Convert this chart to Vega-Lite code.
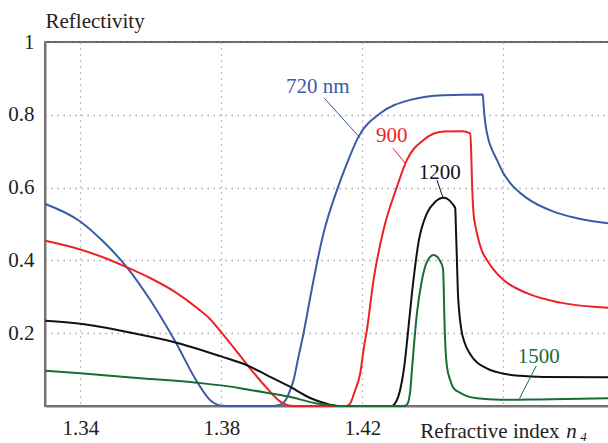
{
  "$schema": "https://vega.github.io/schema/vega-lite/v6.json",
  "width": 564,
  "height": 364,
  "autosize": {"type": "none"},
  "padding": {"left": 45, "top": 42, "right": 0, "bottom": 37},
  "background": "white",
  "config": {
    "font": "Liberation Serif",
    "view": {"stroke": "#333", "strokeWidth": 1.5},
    "axis": {
      "domainColor": "#777",
      "domainWidth": 2,
      "ticks": false,
      "labelFontSize": 21,
      "labelColor": "#222",
      "labelFont": "Liberation Serif",
      "grid": true,
      "gridColor": "#9a9a9a",
      "gridWidth": 1.3,
      "gridDash": [1.3, 4.7],
      "titleFont": "Liberation Serif",
      "titleFontSize": 21,
      "titleFontWeight": "normal",
      "titleColor": "#222"
    }
  },
  "datasets": {
    "curves": [
      {"series": "720", "x": 1.3301, "y": 0.555},
      {"series": "720", "x": 1.34, "y": 0.507},
      {"series": "720", "x": 1.3466, "y": 0.451},
      {"series": "720", "x": 1.35325, "y": 0.381},
      {"series": "720", "x": 1.35986, "y": 0.291},
      {"series": "720", "x": 1.36695, "y": 0.177},
      {"series": "720", "x": 1.37311, "y": 0.067},
      {"series": "720", "x": 1.37688, "y": 0.016},
      {"series": "720", "x": 1.3802, "y": 0.001},
      {"series": "720", "x": 1.3835, "y": 0.0},
      {"series": "720", "x": 1.3945, "y": 0.0},
      {"series": "720", "x": 1.3962, "y": 0.002},
      {"series": "720", "x": 1.3974, "y": 0.007},
      {"series": "720", "x": 1.3985, "y": 0.02},
      {"series": "720", "x": 1.3995, "y": 0.042},
      {"series": "720", "x": 1.4005, "y": 0.071},
      {"series": "720", "x": 1.4019, "y": 0.135},
      {"series": "720", "x": 1.40335, "y": 0.2},
      {"series": "720", "x": 1.4047, "y": 0.27},
      {"series": "720", "x": 1.40618, "y": 0.346},
      {"series": "720", "x": 1.409, "y": 0.474},
      {"series": "720", "x": 1.41282, "y": 0.593},
      {"series": "720", "x": 1.416, "y": 0.675},
      {"series": "720", "x": 1.41895, "y": 0.74},
      {"series": "720", "x": 1.42511, "y": 0.804},
      {"series": "720", "x": 1.43362, "y": 0.841},
      {"series": "720", "x": 1.44306, "y": 0.854},
      {"series": "720", "x": 1.4542, "y": 0.856},
      {"series": "720", "x": 1.4544, "y": 0.83},
      {"series": "720", "x": 1.45461, "y": 0.804},
      {"series": "720", "x": 1.4551, "y": 0.765},
      {"series": "720", "x": 1.45583, "y": 0.731},
      {"series": "720", "x": 1.457, "y": 0.7},
      {"series": "720", "x": 1.45821, "y": 0.676},
      {"series": "720", "x": 1.46, "y": 0.64},
      {"series": "720", "x": 1.46199, "y": 0.612},
      {"series": "720", "x": 1.46672, "y": 0.571},
      {"series": "720", "x": 1.47427, "y": 0.534},
      {"series": "720", "x": 1.48091, "y": 0.516},
      {"series": "720", "x": 1.48979, "y": 0.502},

      {"series": "900", "x": 1.3301, "y": 0.454},
      {"series": "900", "x": 1.34, "y": 0.43},
      {"series": "900", "x": 1.3466, "y": 0.408},
      {"series": "900", "x": 1.35325, "y": 0.381},
      {"series": "900", "x": 1.35994, "y": 0.351},
      {"series": "900", "x": 1.36663, "y": 0.315},
      {"series": "900", "x": 1.37331, "y": 0.268},
      {"series": "900", "x": 1.377, "y": 0.237},
      {"series": "900", "x": 1.3802, "y": 0.2},
      {"series": "900", "x": 1.3838, "y": 0.157},
      {"series": "900", "x": 1.38729, "y": 0.114},
      {"series": "900", "x": 1.39296, "y": 0.049},
      {"series": "900", "x": 1.39674, "y": 0.012},
      {"series": "900", "x": 1.40043, "y": 0.0},
      {"series": "900", "x": 1.4155, "y": 0.0},
      {"series": "900", "x": 1.4165, "y": 0.006},
      {"series": "900", "x": 1.418, "y": 0.044},
      {"series": "900", "x": 1.41943, "y": 0.09},
      {"series": "900", "x": 1.42037, "y": 0.154},
      {"series": "900", "x": 1.42133, "y": 0.209},
      {"series": "900", "x": 1.4232, "y": 0.346},
      {"series": "900", "x": 1.42604, "y": 0.484},
      {"series": "900", "x": 1.42984, "y": 0.602},
      {"series": "900", "x": 1.43268, "y": 0.676},
      {"series": "900", "x": 1.43739, "y": 0.731},
      {"series": "900", "x": 1.44306, "y": 0.754},
      {"series": "900", "x": 1.44828, "y": 0.755},
      {"series": "900", "x": 1.45064, "y": 0.749},
      {"series": "900", "x": 1.4509, "y": 0.7},
      {"series": "900", "x": 1.45112, "y": 0.621},
      {"series": "900", "x": 1.45157, "y": 0.529},
      {"series": "900", "x": 1.4522, "y": 0.49},
      {"series": "900", "x": 1.45299, "y": 0.456},
      {"series": "900", "x": 1.454, "y": 0.425},
      {"series": "900", "x": 1.45537, "y": 0.401},
      {"series": "900", "x": 1.4575, "y": 0.372},
      {"series": "900", "x": 1.46009, "y": 0.346},
      {"series": "900", "x": 1.46672, "y": 0.31},
      {"series": "900", "x": 1.47617, "y": 0.284},
      {"series": "900", "x": 1.48979, "y": 0.27},

      {"series": "1200", "x": 1.3301, "y": 0.234},
      {"series": "1200", "x": 1.34, "y": 0.226},
      {"series": "1200", "x": 1.3551, "y": 0.2},
      {"series": "1200", "x": 1.3665, "y": 0.176},
      {"series": "1200", "x": 1.3797, "y": 0.137},
      {"series": "1200", "x": 1.3873, "y": 0.112},
      {"series": "1200", "x": 1.3929, "y": 0.085},
      {"series": "1200", "x": 1.3991, "y": 0.055},
      {"series": "1200", "x": 1.4052, "y": 0.022},
      {"series": "1200", "x": 1.41, "y": 0.006},
      {"series": "1200", "x": 1.4138, "y": 0.0},
      {"series": "1200", "x": 1.4284, "y": 0.0},
      {"series": "1200", "x": 1.4292, "y": 0.006},
      {"series": "1200", "x": 1.4302, "y": 0.025},
      {"series": "1200", "x": 1.43126, "y": 0.068},
      {"series": "1200", "x": 1.432, "y": 0.115},
      {"series": "1200", "x": 1.43268, "y": 0.175},
      {"series": "1200", "x": 1.4341, "y": 0.31},
      {"series": "1200", "x": 1.43597, "y": 0.45},
      {"series": "1200", "x": 1.43835, "y": 0.529},
      {"series": "1200", "x": 1.44071, "y": 0.561},
      {"series": "1200", "x": 1.44306, "y": 0.572},
      {"series": "1200", "x": 1.44545, "y": 0.557},
      {"series": "1200", "x": 1.44638, "y": 0.543},
      {"series": "1200", "x": 1.4466, "y": 0.48},
      {"series": "1200", "x": 1.44686, "y": 0.4},
      {"series": "1200", "x": 1.4471, "y": 0.32},
      {"series": "1200", "x": 1.4475, "y": 0.26},
      {"series": "1200", "x": 1.4481, "y": 0.21},
      {"series": "1200", "x": 1.449, "y": 0.175},
      {"series": "1200", "x": 1.4506, "y": 0.143},
      {"series": "1200", "x": 1.4525, "y": 0.12},
      {"series": "1200", "x": 1.4544, "y": 0.108},
      {"series": "1200", "x": 1.4563, "y": 0.099},
      {"series": "1200", "x": 1.4595, "y": 0.09},
      {"series": "1200", "x": 1.4648, "y": 0.083},
      {"series": "1200", "x": 1.4714, "y": 0.08},
      {"series": "1200", "x": 1.48979, "y": 0.079},

      {"series": "1500", "x": 1.3301, "y": 0.097},
      {"series": "1500", "x": 1.34, "y": 0.09},
      {"series": "1500", "x": 1.35702, "y": 0.076},
      {"series": "1500", "x": 1.37311, "y": 0.064},
      {"series": "1500", "x": 1.38539, "y": 0.049},
      {"series": "1500", "x": 1.38823, "y": 0.044},
      {"series": "1500", "x": 1.39909, "y": 0.026},
      {"series": "1500", "x": 1.40715, "y": 0.007},
      {"series": "1500", "x": 1.411, "y": 0.002},
      {"series": "1500", "x": 1.41376, "y": 0.0},
      {"series": "1500", "x": 1.4317, "y": 0.0},
      {"series": "1500", "x": 1.4327, "y": 0.004},
      {"series": "1500", "x": 1.4336, "y": 0.04},
      {"series": "1500", "x": 1.4341, "y": 0.1},
      {"series": "1500", "x": 1.43552, "y": 0.255},
      {"series": "1500", "x": 1.43694, "y": 0.346},
      {"series": "1500", "x": 1.43835, "y": 0.396},
      {"series": "1500", "x": 1.44023, "y": 0.415},
      {"series": "1500", "x": 1.44193, "y": 0.401},
      {"series": "1500", "x": 1.44289, "y": 0.378},
      {"series": "1500", "x": 1.4431, "y": 0.33},
      {"series": "1500", "x": 1.44326, "y": 0.255},
      {"series": "1500", "x": 1.4436, "y": 0.16},
      {"series": "1500", "x": 1.44403, "y": 0.108},
      {"series": "1500", "x": 1.445, "y": 0.07},
      {"series": "1500", "x": 1.4459, "y": 0.049},
      {"series": "1500", "x": 1.4478, "y": 0.036},
      {"series": "1500", "x": 1.4497, "y": 0.027},
      {"series": "1500", "x": 1.45254, "y": 0.021},
      {"series": "1500", "x": 1.45915, "y": 0.017},
      {"series": "1500", "x": 1.47, "y": 0.018},
      {"series": "1500", "x": 1.48979, "y": 0.021}
    ],
    "labels": [
      {"series": "720", "text": "720 nm", "x": 1.40738, "y": 0.86, "lx": 1.40922, "ly": 0.846, "lx2": 1.41943, "ly2": 0.736},
      {"series": "900", "text": "900", "x": 1.42837, "y": 0.726, "lx": 1.42871, "ly": 0.708, "lx2": 1.4322, "ly2": 0.667},
      {"series": "1200", "text": "1200", "x": 1.44199, "y": 0.623, "lx": 1.44119, "ly": 0.621, "lx2": 1.44289, "ly2": 0.573},
      {"series": "1500", "text": "1500", "x": 1.47007, "y": 0.119, "lx": 1.46936, "ly": 0.11, "lx2": 1.46462, "ly2": 0.021}
    ]
  },
  "layer": [
    {
      "data": {"name": "curves"},
      "mark": {"type": "line", "strokeWidth": 2, "interpolate": "monotone"},
      "encoding": {
        "x": {
          "field": "x", "type": "quantitative",
          "scale": {"domain": [1.33, 1.49], "nice": false, "zero": false},
          "axis": {
            "values": [1.34, 1.38, 1.42, 1.46],
            "labelExpr": "datum.value > 1.45 ? '' : format(datum.value, '.2f')",
            "labelBaseline": "alphabetic",
            "labelPadding": 28,
            "title": null
          }
        },
        "y": {
          "field": "y", "type": "quantitative",
          "scale": {"domain": [0, 1], "nice": false},
          "axis": {
            "values": [0.2, 0.4, 0.6, 0.8, 1],
            "labelExpr": "datum.value == 1 ? '1' : format(datum.value, '.1f')",
            "labelPadding": 11,
            "title": "Reflectivity",
            "titleAngle": 0,
            "titleAlign": "left",
            "titleBaseline": "alphabetic",
            "titleX": 0,
            "titleY": -15
          }
        },
        "color": {
          "field": "series", "type": "nominal",
          "scale": {"domain": ["720", "900", "1200", "1500"], "range": ["#3b5ba8", "#ec2227", "#111111", "#1b6b37"]},
          "legend": null
        },
        "detail": {"field": "series"}
      }
    },
    {
      "data": {"name": "labels"},
      "mark": {"type": "rule", "strokeWidth": 1},
      "encoding": {
        "x": {"field": "lx", "type": "quantitative", "scale": {"domain": [1.33, 1.49], "nice": false, "zero": false}},
        "y": {"field": "ly", "type": "quantitative", "scale": {"domain": [0, 1], "nice": false}},
        "x2": {"field": "lx2"},
        "y2": {"field": "ly2"},
        "color": {"field": "series", "type": "nominal", "legend": null}
      }
    },
    {
      "data": {"name": "labels"},
      "mark": {"type": "text", "fontSize": 21, "align": "center", "baseline": "alphabetic", "font": "Liberation Serif"},
      "encoding": {
        "x": {"field": "x", "type": "quantitative", "scale": {"domain": [1.33, 1.49], "nice": false, "zero": false}},
        "y": {"field": "y", "type": "quantitative", "scale": {"domain": [0, 1], "nice": false}},
        "text": {"field": "text"},
        "color": {"field": "series", "type": "nominal", "legend": null}
      }
    },
    {
      "data": {"values": [{"text": "Refractive index", "x": 1.43645, "y": -0.0876}]},
      "mark": {"type": "text", "fontSize": 21, "align": "left", "baseline": "alphabetic", "color": "#222", "font": "Liberation Serif"},
      "encoding": {
        "x": {"field": "x", "type": "quantitative", "scale": {"domain": [1.33, 1.49], "nice": false, "zero": false}},
        "y": {"field": "y", "type": "quantitative", "scale": {"domain": [0, 1], "nice": false}},
        "text": {"field": "text"}
      }
    },
    {
      "data": {"values": [{"text": "n", "x": 1.47787, "y": -0.0876}]},
      "mark": {"type": "text", "fontSize": 21, "fontStyle": "italic", "align": "left", "baseline": "alphabetic", "color": "#222", "font": "Liberation Serif"},
      "encoding": {
        "x": {"field": "x", "type": "quantitative", "scale": {"domain": [1.33, 1.49], "nice": false, "zero": false}},
        "y": {"field": "y", "type": "quantitative", "scale": {"domain": [0, 1], "nice": false}},
        "text": {"field": "text"}
      }
    },
    {
      "data": {"values": [{"text": "4", "x": 1.48184, "y": -0.0962}]},
      "mark": {"type": "text", "fontSize": 13, "fontStyle": "italic", "align": "left", "baseline": "alphabetic", "color": "#222", "font": "Liberation Serif"},
      "encoding": {
        "x": {"field": "x", "type": "quantitative", "scale": {"domain": [1.33, 1.49], "nice": false, "zero": false}},
        "y": {"field": "y", "type": "quantitative", "scale": {"domain": [0, 1], "nice": false}},
        "text": {"field": "text"}
      }
    }
  ]
}
